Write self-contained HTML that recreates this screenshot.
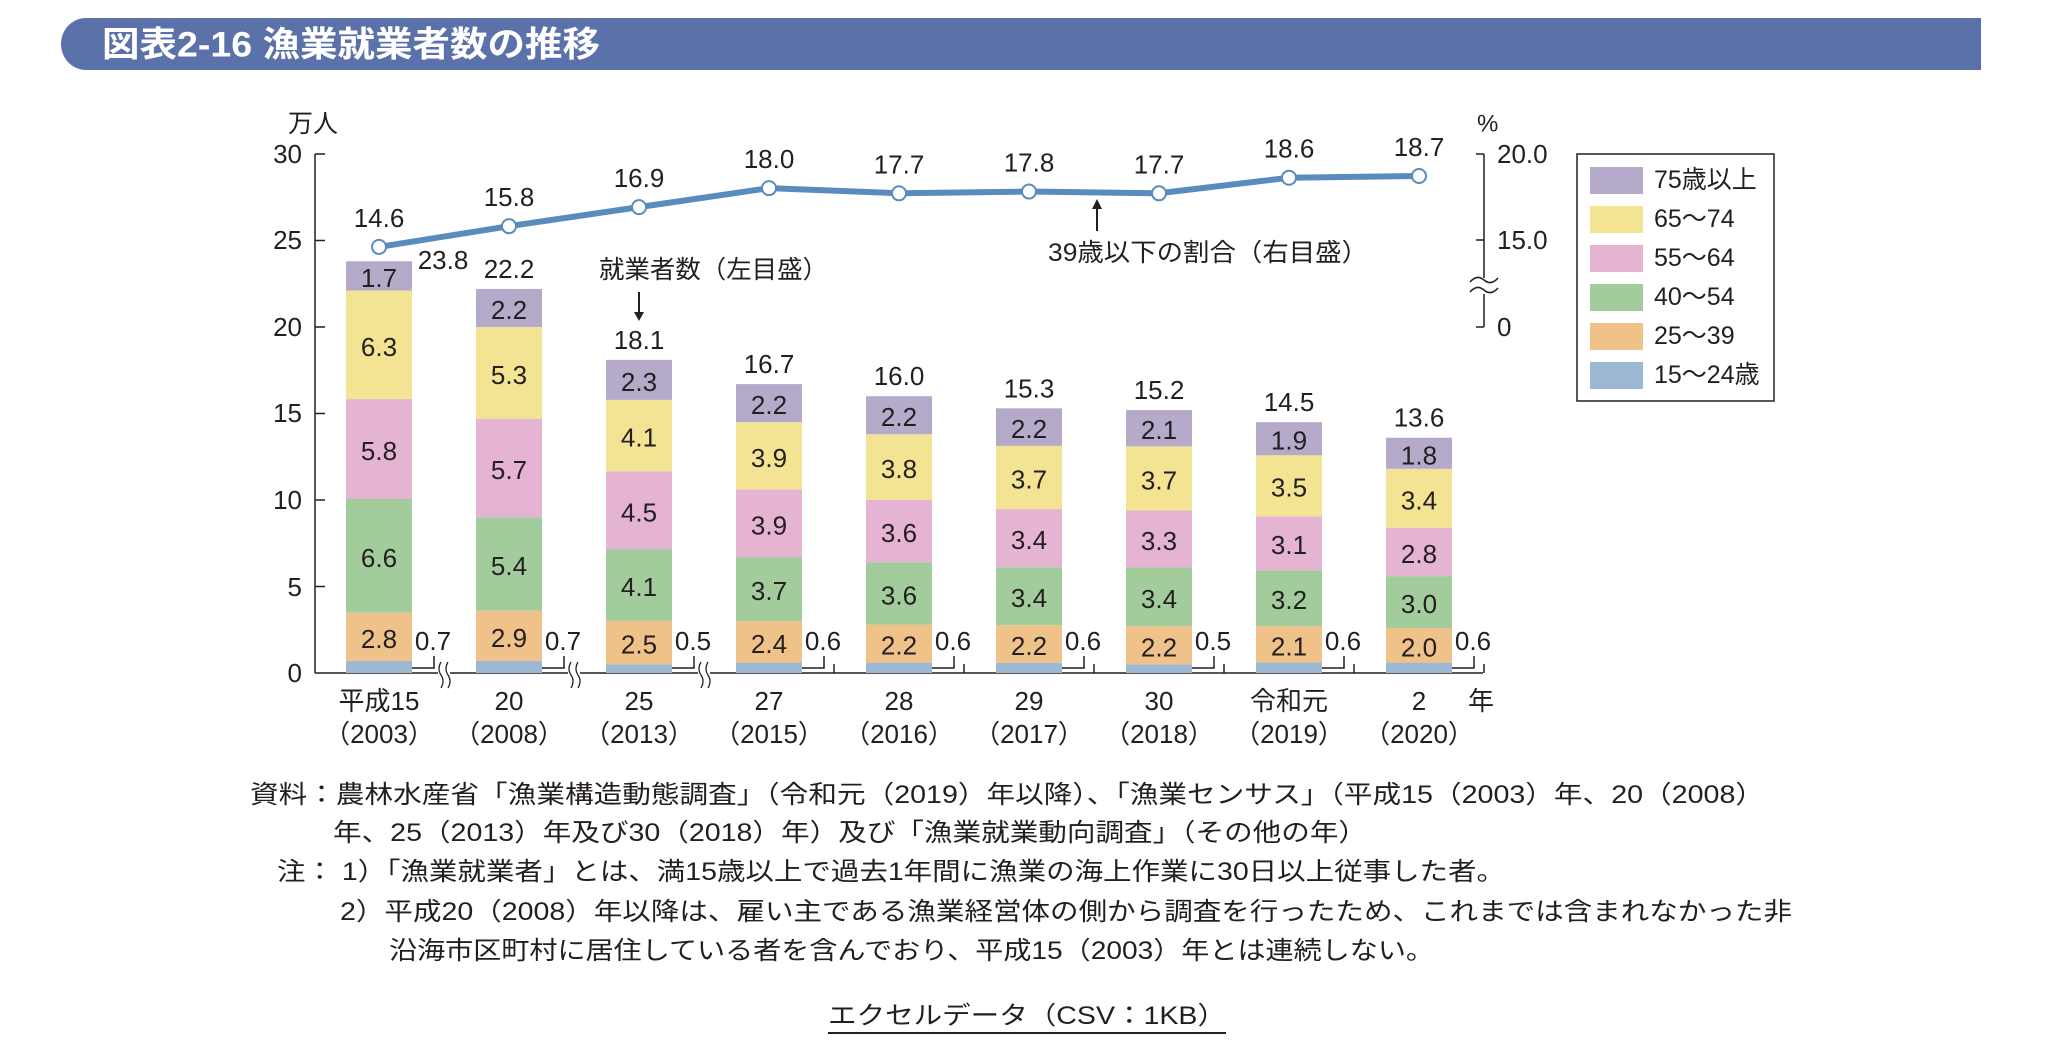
<!DOCTYPE html>
<html><head><meta charset="utf-8"><style>
html,body{margin:0;padding:0;background:#fff;}
svg{display:block;}
text{font-family:"Liberation Sans","Noto Sans CJK JP",sans-serif;fill:#231f20;}
</style></head><body>
<svg width="2056" height="1060" viewBox="0 0 2056 1060" xmlns="http://www.w3.org/2000/svg">
<!-- header -->
<path d="M86,18 H1981 V70 H86 A25,26 0 0 1 61,44 A25,26 0 0 1 86,18 Z" fill="#5b71a9"/>
<text x="102" y="45" font-size="35" font-weight="bold" style="fill:#fff" dominant-baseline="central" textLength="498" lengthAdjust="spacingAndGlyphs">図表2-16 漁業就業者数の推移</text>

<!-- left axis -->
<g stroke="#231f20" stroke-width="1.5" fill="none">
<line x1="315" y1="154" x2="315" y2="673"/>
<line x1="315" y1="154" x2="325" y2="154"/>
<line x1="315" y1="240.5" x2="325" y2="240.5"/>
<line x1="315" y1="327" x2="325" y2="327"/>
<line x1="315" y1="413.5" x2="325" y2="413.5"/>
<line x1="315" y1="500" x2="325" y2="500"/>
<line x1="315" y1="586.5" x2="325" y2="586.5"/>
<line x1="315" y1="673" x2="1483" y2="673"/>
<!-- right axis -->
<line x1="1484" y1="154" x2="1484" y2="278"/>
<line x1="1484" y1="294" x2="1484" y2="327"/>
<line x1="1476" y1="154" x2="1484" y2="154"/>
<line x1="1476" y1="240" x2="1484" y2="240"/>
<line x1="1476" y1="327" x2="1484" y2="327"/>
<path d="M1470,282 q7,-8 14,-2 t14,-2 M1470,292 q7,-8 14,-2 t14,-2" stroke="#231f20"/>
</g>
<g font-size="26" text-anchor="end" dominant-baseline="central">
<text x="302" y="154">30</text><text x="302" y="240">25</text><text x="302" y="327">20</text>
<text x="302" y="413">15</text><text x="302" y="500">10</text><text x="302" y="587">5</text><text x="302" y="673">0</text>
</g>
<text x="288" y="124" font-size="25" dominant-baseline="central">万人</text>
<g font-size="26" dominant-baseline="central">
<text x="1497" y="154">20.0</text><text x="1497" y="240">15.0</text><text x="1497" y="327">0</text>
<text x="1477" y="124" font-size="24">%</text>
</g>

<!-- bars -->
<g id="bars"></g>

<!-- legend -->
<rect x="1577" y="154" width="197" height="247" fill="#fff" stroke="#231f20" stroke-width="1.5"/>
<g font-size="25" dominant-baseline="central">
<rect x="1590" y="167" width="53" height="27" fill="#b6aacb"/><text x="1654" y="180">75歳以上</text>
<rect x="1590" y="206" width="53" height="27" fill="#f2e492"/><text x="1654" y="219">65～74</text>
<rect x="1590" y="245" width="53" height="27" fill="#e4b4d2"/><text x="1654" y="258">55～64</text>
<rect x="1590" y="284" width="53" height="27" fill="#a2cc9c"/><text x="1654" y="297">40～54</text>
<rect x="1590" y="323" width="53" height="27" fill="#efc28a"/><text x="1654" y="336">25～39</text>
<rect x="1590" y="362" width="53" height="27" fill="#9db8d3"/><text x="1654" y="375">15～24歳</text>
</g>

<!-- annotations -->
<text x="599" y="270" font-size="25" dominant-baseline="central" textLength="229" lengthAdjust="spacingAndGlyphs">就業者数（左目盛）</text>
<line x1="639" y1="292" x2="639" y2="314" stroke="#231f20" stroke-width="2"/>
<path d="M634,312 L644,312 L639,321 Z" fill="#231f20"/>
<text x="1048" y="253" font-size="25" dominant-baseline="central" textLength="320" lengthAdjust="spacingAndGlyphs">39歳以下の割合（右目盛）</text>
<line x1="1097" y1="231" x2="1097" y2="207" stroke="#231f20" stroke-width="2"/>
<path d="M1092,209 L1102,209 L1097,199 Z" fill="#231f20"/>

<!-- x labels -->
<g font-size="26" text-anchor="middle" dominant-baseline="central">
<text x="379" y="701">平成15</text><text x="379" y="734">（2003）</text>
<text x="509" y="701">20</text><text x="509" y="734">（2008）</text>
<text x="639" y="701">25</text><text x="639" y="734">（2013）</text>
<text x="769" y="701">27</text><text x="769" y="734">（2015）</text>
<text x="899" y="701">28</text><text x="899" y="734">（2016）</text>
<text x="1029" y="701">29</text><text x="1029" y="734">（2017）</text>
<text x="1159" y="701">30</text><text x="1159" y="734">（2018）</text>
<text x="1289" y="701">令和元</text><text x="1289" y="734">（2019）</text>
<text x="1419" y="701">2</text><text x="1419" y="734">（2020）</text>
<text x="1481" y="701">年</text>
</g>

<!-- footnotes -->
<g font-size="25" dominant-baseline="central">
<text x="250" y="795" textLength="1514" lengthAdjust="spacingAndGlyphs">資料：農林水産省「漁業構造動態調査」（令和元（2019）年以降）、「漁業センサス」（平成15（2003）年、20（2008）</text>
<text x="333" y="833" textLength="1034" lengthAdjust="spacingAndGlyphs">年、25（2013）年及び30（2018）年）及び「漁業就業動向調査」（その他の年）</text>
<text x="277" y="872" textLength="1228" lengthAdjust="spacingAndGlyphs">注：  1）「漁業就業者」とは、満15歳以上で過去1年間に漁業の海上作業に30日以上従事した者。</text>
<text x="340" y="912" textLength="1452" lengthAdjust="spacingAndGlyphs">2）平成20（2008）年以降は、雇い主である漁業経営体の側から調査を行ったため、これまでは含まれなかった非</text>
<text x="389" y="951" textLength="1045" lengthAdjust="spacingAndGlyphs">沿海市区町村に居住している者を含んでおり、平成15（2003）年とは連続しない。</text>
<text x="828" y="1016" textLength="398" lengthAdjust="spacingAndGlyphs">エクセルデータ（CSV：1KB）</text>
<line x1="828" y1="1033" x2="1226" y2="1033" stroke="#231f20" stroke-width="2"/>
</g>
</svg>
<script>
const data=[
[0.7,2.8,6.6,5.8,6.3,1.7,23.8,14.6],
[0.7,2.9,5.4,5.7,5.3,2.2,22.2,15.8],
[0.5,2.5,4.1,4.5,4.1,2.3,18.1,16.9],
[0.6,2.4,3.7,3.9,3.9,2.2,16.7,18.0],
[0.6,2.2,3.6,3.6,3.8,2.2,16.0,17.7],
[0.6,2.2,3.4,3.4,3.7,2.2,15.3,17.8],
[0.5,2.2,3.4,3.3,3.7,2.1,15.2,17.7],
[0.6,2.1,3.2,3.1,3.5,1.9,14.5,18.6],
[0.6,2.0,3.0,2.8,3.4,1.8,13.6,18.7]];
const cols=["#9db8d3","#efc28a","#a2cc9c","#e4b4d2","#f2e492","#b6aacb"];
const Y=v=>673-v*17.3, P=p=>240-(p-15)*17.3;
let s="";
let pts=[];
data.forEach((d,i)=>{
 const cx=379+130*i, x=cx-33;
 const sum=d.slice(0,6).reduce((a,b)=>a+b,0), k=d[6]/sum;
 let acc=0;
 for(let j=0;j<6;j++){
  const y0=Y(acc*k), y1=Y((acc+d[j])*k);
  s+=`<rect x="${x}" y="${y1}" width="66" height="${y0-y1}" fill="${cols[j]}"/>`;
  if(j>0) s+=`<text x="${cx}" y="${(y0+y1)/2+2}" font-size="26" text-anchor="middle" dominant-baseline="central">${d[j].toFixed(1)}</text>`;
  acc+=d[j];
 }
 // bracket + small label
 s+=`<path d="M${x+66},668 H${x+88} V656" fill="none" stroke="#231f20" stroke-width="1.5"/>`;
 s+=`<text x="${x+87}" y="641" font-size="26" text-anchor="middle" dominant-baseline="central">${d[0].toFixed(1)}</text>`;
 const gx=cx+65;
 if(i<3){
  s+=`<rect x="${gx-6}" y="660" width="12" height="30" fill="#fff"/>`;
  s+=`<path d="M${gx-3},662 q-4,7 0,13 t0,13 M${gx+4},662 q-4,7 0,13 t0,13" fill="none" stroke="#231f20" stroke-width="1.3"/>`;
 } else {
  s+=`<line x1="${gx}" y1="673" x2="${gx}" y2="664" stroke="#231f20" stroke-width="1.5"/>`;
 }
 // total label
 if(i==0) s+=`<text x="443" y="260" font-size="26" text-anchor="middle" dominant-baseline="central">23.8</text>`;
 else s+=`<text x="${cx}" y="${Y(d[6])-20}" font-size="26" text-anchor="middle" dominant-baseline="central">${d[6].toFixed(1)}</text>`;
 pts.push([cx,P(d[7]),d[7]]);
});
s+=`<polyline points="${pts.map(p=>p[0]+','+p[1]).join(' ')}" fill="none" stroke="#5a8bbd" stroke-width="6" stroke-linejoin="round"/>`;
pts.forEach(p=>{
 s+=`<circle cx="${p[0]}" cy="${p[1]}" r="7" fill="#fff" stroke="#5a8bbd" stroke-width="2"/>`;
 s+=`<text x="${p[0]}" y="${p[1]-29}" font-size="26" text-anchor="middle" dominant-baseline="central">${p[2].toFixed(1)}</text>`;
});
document.getElementById("bars").innerHTML=s;
</script>
</body></html>
